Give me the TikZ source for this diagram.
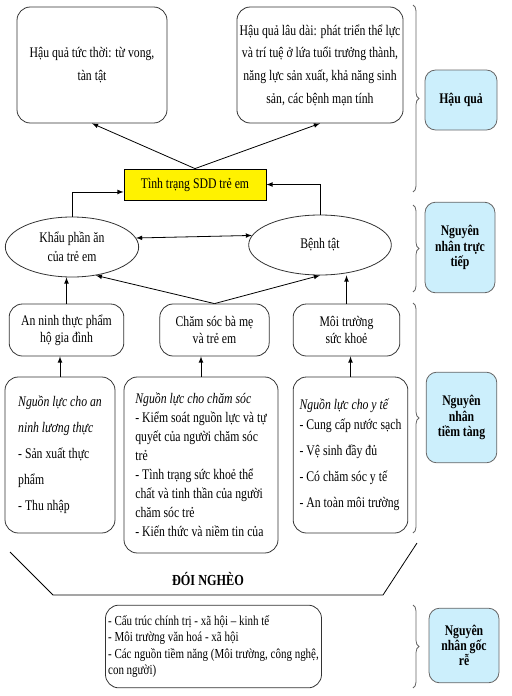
\documentclass[tikz,border=0pt]{standalone}
\usepackage{fontspec}
\setmainfont{Liberation Serif}[FakeStretch=0.8]
\usetikzlibrary{shapes.geometric,decorations.pathreplacing}

\begin{document}
\begin{tikzpicture}[
  x=0.75pt, y=-0.75pt,
  every path/.append style={line width=0.6pt},
  font=\fontsize{11}{17}\selectfont,
  box/.style={draw=black!80, rounded corners=10pt, align=center, inner sep=2pt},
  oval/.style={draw=black!80, ellipse, align=center, inner sep=0pt},
  tag/.style={draw=black!60, fill=cyan!20, rounded corners=8pt, align=center,
    font=\fontsize{11}{11.5}\selectfont\bfseries},
  brace/.style={draw=black!60, decorate, decoration={brace, amplitude=4.5pt}},
  >=latex
  ]
  \useasboundingbox (0,0) rectangle (511,696);

  % hau qua
  \node [box, minimum width=112.5pt, minimum height=87pt] (now) at (92,65)
    {Hậu quả tức thời: từ vong,\\tàn tật};
  \node [box, minimum width=120pt, minimum height=87pt] (late) at (320,65)
    {Hậu quả lâu dài: phát triển thể lực\\và trí tuệ ở lứa tuổi trưởng thành,\\năng lực sản xuất, khả năng sinh\\sản, các bệnh mạn tính};
  \node [draw, fill=yellow, minimum width=106.5pt, minimum height=23.25pt] (sdd) at (195,184.5)
    {Tình trạng SDD trẻ em};

  % nguyen nhan truc tiep
  \node [oval, minimum width=100pt, minimum height=45pt, font=\fontsize{11}{14}\selectfont] (diet) at (72,247)
    {Khẩu phần ăn\\của trẻ em};
  \node [oval, minimum width=107pt, minimum height=45pt] (ill) at (320,245) {Bệnh tật};

  % nguyen nhan tiem tang
  \node [box, minimum width=86pt, minimum height=39pt, font=\fontsize{11}{13}\selectfont] (food) at (66.5,330)
    {An ninh thực phẩm\\hộ gia đình};
  \node [box, minimum width=82pt, minimum height=39pt, font=\fontsize{11}{13}\selectfont] (care) at (214.5,330)
    {Chăm sóc bà mẹ\\và trẻ em};
  \node [box, minimum width=80pt, minimum height=39pt, font=\fontsize{11}{13}\selectfont] (env) at (346.5,330)
    {Môi trường\\sức khoẻ};

  \node [box, minimum width=82.5pt, minimum height=117pt, align=left, font=\fontsize{11}{19.5}\selectfont] (rfood) at (60,455)
    {\textit{Nguồn lực cho an}\\\textit{ninh lương thực}\\- Sản xuất thực\\phẩm\\- Thu nhập};
  \node [box, minimum width=115.5pt, minimum height=132pt, align=left, font=\fontsize{11}{14.25}\selectfont] (rcare) at (201,465)
    {\textit{Nguồn lực cho chăm sóc}\\- Kiểm soát nguồn lực và tự\\quyết của người chăm sóc\\trẻ\\- Tình trạng sức khoẻ thể\\chất và tinh thần của người\\chăm sóc trẻ\\- Kiến thức và niềm tin của};
  \node [box, minimum width=86pt, minimum height=117pt, align=left, font=\fontsize{11}{15}\selectfont] (rhealth) at (350.5,455)
    {\textit{Nguồn lực cho y tế}\\- Cung cấp nước sạch\\[4.5pt]- Vệ sinh đầy đủ\\[4.5pt]- Có chăm sóc y tế\\[4.5pt]- An toàn môi trường};

  % doi ngheo
  \draw (10,552) -- (53,595) -- (383,595) -- (417,543);
  \node [font=\fontsize{11.5}{13}\selectfont\bfseries] (poor) at (208,579) {ĐÓI NGHÈO};
  \node [box, minimum width=160pt, minimum height=62pt, align=left, font=\fontsize{10.3}{12.4}\selectfont] (root) at (213.5,646.5)
    {- Cấu trúc chính trị - xã hội – kinh tế\\- Môi trường văn hoá - xã hội\\- Các nguồn tiềm năng (Môi trường, công nghệ,\\con người)};

  % arrows
  \draw [->] (sdd.north) -- (now.south);
  \draw [->] (sdd.north) -- (late.south);
  \draw [->] (diet.north) |- ([yshift=-5.6pt]sdd.west);
  \draw [->] (ill.north) |- (sdd.east);
  \draw [<->] (diet.8) -- (ill.172);
  \draw [->] (care.north) -- (diet.-50);
  \draw [->] (care.north) -- (ill.south);
  \draw [->] (food.north) -- (food.north |- diet.south);
  \draw [->] (env.north) -- (env.north |- ill.south);
  \draw [->] (rfood.north) -- (rfood.north |- food.south);
  \draw [->] (rcare.north) -- (rcare.north |- care.south);
  \draw [->] (rhealth.north) -- (rhealth.north |- env.south);

  % braces and tags
  \draw [brace] (413,5) -- (413,192);
  \draw [brace] (413,205) -- (413,292);
  \draw [brace] (413,303) -- (413,533);
  \draw [brace] (413,605) -- (413,688);
  \node [tag, minimum width=54pt, minimum height=45pt] (tqua) at (461,100) {Hậu quả};
  \node [tag, minimum width=52.5pt, minimum height=68pt] (ttruc) at (460,247.5) {Nguyên\\nhân trực\\tiếp};
  \node [tag, minimum width=53pt, minimum height=68pt] (ttiem) at (461.5,417.5) {Nguyên\\nhân\\tiềm tàng};
  \node [tag, minimum width=52.5pt, minimum height=56pt] (tgoc) at (464,645.5) {Nguyên\\nhân gốc\\rễ};
\end{tikzpicture}
\end{document}
